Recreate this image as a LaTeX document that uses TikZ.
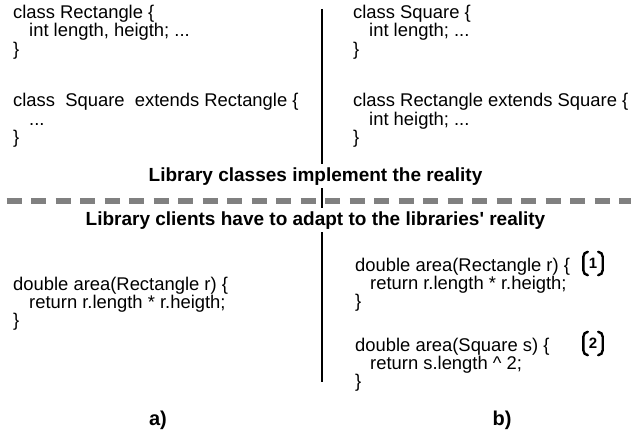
\documentclass[tikz,border=0pt]{standalone}
\usepackage{fontspec}
\setmainfont{Liberation Sans}[Ligatures=TeXOff]
\begin{document}
\begin{tikzpicture}[x=1pt,y=-1pt,
  code/.style={anchor=base west,inner sep=0pt,font=\fontsize{18.4}{18.4}\selectfont},
  title/.style={anchor=base,inner sep=3pt,fill=white,font=\fontsize{19}{19}\selectfont\bfseries},
  caption/.style={anchor=base,inner sep=0pt,font=\fontsize{20}{20}\selectfont\bfseries},
  tag/.style={minimum width=19pt,minimum height=23pt,inner sep=0pt,font=\fontsize{15}{15}\selectfont\bfseries},
  brk/.style={line width=2.4pt,line cap=round},
  sep/.style={draw=gray,line width=6.7pt,dash pattern=on 15pt off 9.5pt},
  divider/.style={line width=2pt}]
\useasboundingbox (0,0) rectangle (631,433);

% dashed separator between library and client code
\coordinate (sepL) at (6.7,201);
\coordinate (sepR) at (640,201);
\draw[sep] (sepL) -- (sepR);

% vertical divider between the two variants
\coordinate (divT) at (322,9);
\coordinate (divB) at (322,382);
\draw[divider] (divT) -- (divB);

% variant a): library classes
\node[code] (a1) at (13,18.3) {class Rectangle \{};
\node[code] (a2) at (29,36.7) {int length, heigth; ...};
\node[code] (a3) at (13,55.1) {\}};
\node[code] (a4) at (13,106.7) {class\ \ Square\ \ extends Rectangle \{};
\node[code] (a5) at (29,125.1) {...};
\node[code] (a6) at (13,143.5) {\}};

% variant b): library classes
\node[code] (b1) at (353,18.3) {class Square \{};
\node[code] (b2) at (369,36.7) {int length; ...};
\node[code] (b3) at (353,55.1) {\}};
\node[code] (b4) at (353,106.7) {class Rectangle extends Square \{};
\node[code] (b5) at (369,125.1) {int heigth; ...};
\node[code] (b6) at (353,143.5) {\}};

% headings
\node[title] (t1) at (315.5,181) {Library classes implement the reality};
\node[title] (t2) at (315.5,225) {Library clients have to adapt to the libraries' reality};

% variant a): client code
\node[code] (c1) at (13,290) {double area(Rectangle r) \{};
\node[code] (c2) at (29,308.4) {return r.length * r.heigth;};
\node[code] (c3) at (13,326.8) {\}};

% variant b): client code
\node[code] (d1) at (355,271) {double area(Rectangle r) \{};
\node[code] (d2) at (370,289.4) {return r.length * r.heigth;};
\node[code] (d3) at (355,307.8) {\}};
\node[code] (d4) at (355,351) {double area(Square s) \{};
\node[code] (d5) at (370,369.4) {return s.length \^{} 2;};
\node[code] (d6) at (355,387.8) {\}};

% numbered tags
\node[tag] (n1) at (593,263.5) {1};
\node[tag] (n2) at (593,343.5) {2};
\foreach \n in {n1,n2}{
  \draw[brk] ([xshift=4.5pt]\n.north west) to[out=180,in=90] ([yshift=-5pt]\n.north west)
    -- ([yshift=5pt]\n.south west) to[out=-90,in=180] ([xshift=4.5pt]\n.south west);
  \draw[brk] ([xshift=-4.5pt]\n.north east) to[out=0,in=90] ([yshift=-5pt]\n.north east)
    -- ([yshift=5pt]\n.south east) to[out=-90,in=0] ([xshift=-4.5pt]\n.south east);
}

% captions
\node[caption] (capa) at (158,425) {a)};
\node[caption] (capb) at (502,425) {b)};
\end{tikzpicture}
\end{document}
